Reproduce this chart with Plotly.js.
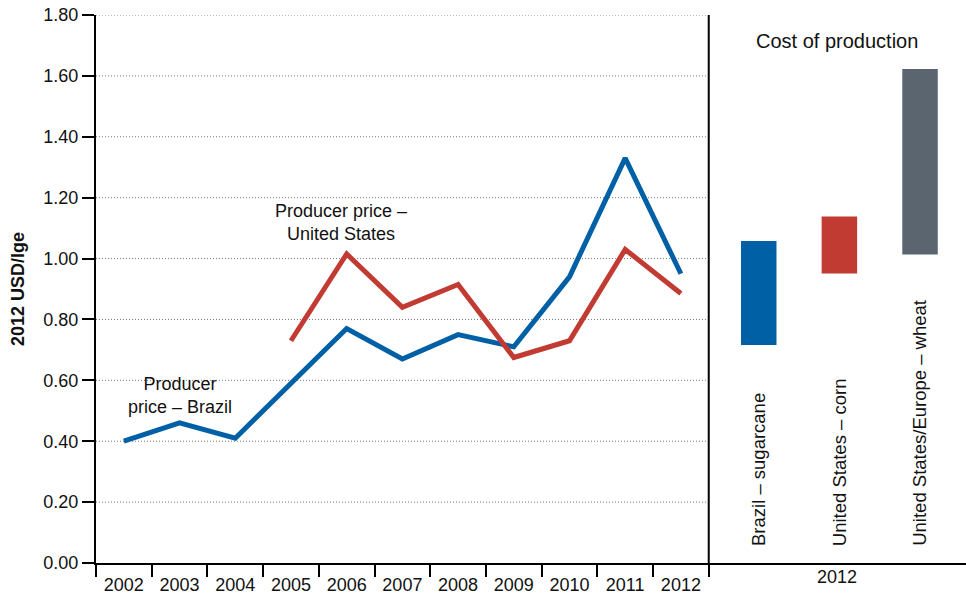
<!DOCTYPE html>
<html>
<head>
<meta charset="utf-8">
<script src="https://cdn.plot.ly/plotly-3.0.1.min.js"></script>
<style>html,body{margin:0;padding:0;background:#fff;}#chart{width:966px;height:595px;}</style>
</head>
<body>
<div id="chart"></div>
<script>
// ---- data ----
const years = ['2002','2003','2004','2005','2006','2007','2008','2009','2010','2011','2012'];
const brazilPrice = [0.40, 0.46, 0.41, 0.59, 0.77, 0.67, 0.75, 0.71, 0.94, 1.33, 0.95];
const usYears = ['2005','2006','2007','2008','2009','2010','2011','2012'];
const usPrice = [0.73, 1.015, 0.84, 0.915, 0.675, 0.73, 1.03, 0.885];
const costCategories = ['Brazil – sugarcane', 'United States – corn', 'United States/Europe – wheat'];
const costLow = [0.716, 0.951, 1.013];
const costHigh = [1.058, 1.138, 1.623];
const costColors = ['#0060a6', '#c23b33', '#5b6570'];
const yTicks = [0, 0.2, 0.4, 0.6, 0.8, 1.0, 1.2, 1.4, 1.6, 1.8];

const FONT = 'Liberation Sans, Arial, Helvetica, sans-serif';
const TXT = '#111';

const traces = [
  {x: years, y: brazilPrice, type: 'scatter', mode: 'lines', xaxis: 'x', yaxis: 'y',
   line: {color: '#0060a6', width: 5}, hoverinfo: 'skip'},
  {x: usYears, y: usPrice, type: 'scatter', mode: 'lines', xaxis: 'x', yaxis: 'y',
   line: {color: '#c23b33', width: 5}, hoverinfo: 'skip'},
  {x: costCategories, y: costHigh.map((h, i) => h - costLow[i]), base: costLow,
   type: 'bar', xaxis: 'x2', yaxis: 'y', width: 0.44,
   marker: {color: costColors, line: {width: 0}}, hoverinfo: 'skip'}
];

const split = 0.7043;
const layout = {
  width: 966, height: 595,
  margin: {l: 96, r: 0, t: 15, b: 32, pad: 0},
  paper_bgcolor: '#fff', plot_bgcolor: '#fff',
  showlegend: false,
  font: {family: FONT, color: TXT, size: 18},
  xaxis: {
    domain: [0, split], type: 'category', range: [-0.5, 10.5],
    tickson: 'boundaries', ticks: 'outside', ticklen: 12, tickwidth: 2, tickcolor: '#000',
    showline: true, linecolor: '#000', linewidth: 2, showgrid: false, zeroline: false,
    ticklabelstandoff: 4,
    tickfont: {size: 18, family: FONT, color: TXT}, fixedrange: true
  },
  xaxis2: {
    domain: [split, 1], type: 'category', range: [-0.62, 2.57], anchor: 'y',
    showline: true, linecolor: '#000', linewidth: 2, showgrid: false, zeroline: false,
    ticks: '', showticklabels: false, fixedrange: true
  },
  yaxis: {
    range: [0, 1.8], tickvals: yTicks, tickformat: '.2f',
    ticks: 'outside', ticklen: 12, tickwidth: 2, tickcolor: '#000',
    showline: true, linecolor: '#000', linewidth: 2,
    showgrid: false, zeroline: false,
    tickfont: {size: 18, family: FONT, color: TXT},
    title: {text: '<b>2012 USD/lge</b>', font: {size: 18, family: FONT, color: TXT}, standoff: 14},
    fixedrange: true
  },
  shapes: [
    // divider between panels
    {type: 'line', xref: 'x domain', yref: 'paper', x0: 1, x1: 1, y0: 0, y1: 1,
     line: {color: '#000', width: 2}}
  ].concat(yTicks.slice(1).map(v => ({
    type: 'line', xref: 'x domain', yref: 'y', x0: 0, x1: 1, y0: v, y1: v,
    layer: 'below', line: {color: '#7a7a7a', width: 1, dash: '1px,2px'}
  }))),
  annotations: [
    {xref: 'x', yref: 'y', x: 3.9, y: 1.12, text: 'Producer price –<br>United States',
     showarrow: false, font: {size: 18, family: FONT, color: TXT}, align: 'center'},
    {xref: 'x', yref: 'y', x: 1, y: 0.55, text: 'Producer<br>price – Brazil',
     showarrow: false, font: {size: 18, family: FONT, color: TXT}, align: 'center'},
    {xref: 'x2 domain', yref: 'y', x: 0.5, y: 1.715, text: 'Cost of production',
     showarrow: false, font: {size: 20, family: FONT, color: TXT}},
    {xref: 'x2 domain', yref: 'paper', x: 0.5, y: 0, yshift: -26, text: '2012',
     showarrow: false, font: {size: 18, family: FONT, color: TXT}}
  ].concat(costCategories.map((c, i) => ({
    xref: 'x2', yref: 'y', x: i, y: 0.05, text: c, textangle: -90,
    xanchor: 'center', yanchor: 'bottom', showarrow: false,
    font: {size: 18.5, family: FONT, color: TXT}
  })))
};

Plotly.newPlot('chart', traces, layout, {displayModeBar: false, staticPlot: true});
</script>
</body>
</html>
